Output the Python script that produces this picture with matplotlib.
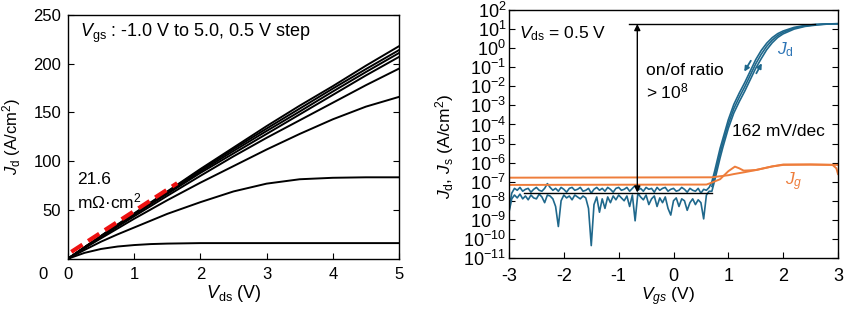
import numpy as np
import matplotlib
matplotlib.use("Agg")
import matplotlib.pyplot as plt

plt.rcParams['font.family'] = ['Liberation Sans', 'DejaVu Sans']
plt.rcParams['mathtext.fontset'] = 'custom'
plt.rcParams['mathtext.rm'] = 'Liberation Sans'
plt.rcParams['mathtext.it'] = 'Liberation Sans:italic'
plt.rcParams['font.size'] = 12

# ---- left panel: output curves Jd-Vds ----
vds = [0, 0.25, 0.5, 0.75, 1.0, 1.25, 1.5, 2.0, 2.5, 3.0, 3.5, 4.0, 4.5, 5.0]
jd_out = [
    [0, 11.8, 23.5, 35.2, 46.5, 57.8, 69.0, 92.0, 114.0, 136.0, 157.0, 177.0, 198.0, 218.0],
    [0, 11.7, 23.3, 34.8, 46.0, 57.3, 68.5, 91.0, 112.5, 133.5, 154.0, 174.5, 194.5, 214.0],
    [0, 11.6, 23.0, 34.4, 45.5, 56.5, 67.5, 89.5, 110.5, 131.0, 151.0, 171.5, 191.5, 211.0],
    [0, 11.5, 22.8, 34.0, 45.0, 56.0, 66.5, 88.0, 108.0, 128.0, 148.0, 168.0, 188.0, 207.0],
    [0, 11.2, 22.0, 33.0, 43.5, 54.0, 64.5, 85.0, 105.0, 124.0, 142.0, 160.0, 178.0, 195.0],
    [0, 10.8, 21.0, 31.0, 41.0, 50.5, 60.0, 78.0, 95.0, 112.0, 128.0, 143.0, 156.0, 166.0],
    [0, 9.0, 17.5, 25.0, 32.0, 39.0, 46.0, 58.0, 69.0, 77.0, 81.5, 83.0, 83.5, 83.5],
    [0, 6.0, 10.0, 12.5, 14.0, 15.0, 15.5, 16.0, 16.0, 16.0, 16.0, 16.0, 16.0, 16.0],
]
fit_v = [0.05, 1.65]
fit_j = [7.0, 77.5]

# ---- right panel: transfer curves (log10 of A/cm2) ----
vgs_off = np.round(np.arange(-3.0, 0.66, 0.05), 2)
jd_fwd_off = [-8.5, -7.6, -7.35, -7.45, -7.3, -7.5, -7.4, -7.35, -7.55, -7.4,
              -7.3, -7.45, -7.5, -7.35, -7.1, -7.3, -7.45, -7.35, -7.5, -7.3,
              -7.4, -7.55, -7.35, -7.3, -7.45, -7.4, -7.3, -7.5, -7.45, -7.35,
              -7.6, -7.4, -7.3, -7.45, -7.35, -7.5, -7.3, -7.4, -7.55, -7.35,
              -7.3, -7.45, -7.4, -7.3, -7.5, -7.35, -7.2, -7.45, -7.35, -7.5,
              -7.3, -7.4, -7.35, -7.55, -7.3, -7.45, -7.35, -7.3, -7.5, -7.4,
              -7.35, -7.5, -7.45, -7.3, -7.4, -7.55, -7.35, -7.45, -7.5, -7.35,
              -7.6, -7.4, -7.45, -7.3]
jd_rev_off = [-8.6, -7.9, -7.7, -7.85, -7.65, -7.9, -7.75, -7.95, -7.7, -7.85,
              -7.9, -7.65, -7.8, -8.1, -7.7, -7.75, -7.9, -8.3, -9.35, -8.0,
              -7.7, -7.85, -7.75, -7.95, -7.7, -7.8, -7.9, -7.75, -7.85, -8.4,
              -10.35, -8.2, -7.8, -8.6, -7.9, -8.4, -7.8, -8.1, -7.75, -7.95,
              -7.7, -7.85, -8.0, -7.75, -8.3, -7.7, -9.05, -7.6, -7.8, -7.95,
              -7.7, -8.2, -7.9, -7.75, -8.3, -7.85, -8.1, -7.8, -8.4, -8.75,
              -8.0, -7.85, -8.3, -7.9, -8.0, -8.5, -8.1, -7.9, -8.2, -7.95,
              -8.1, -8.95, -7.7, -7.5]
vgs_on = [0.70, 0.75, 0.80, 0.85, 0.90, 0.95, 1.00, 1.10, 1.20, 1.30, 1.40,
          1.50, 1.60, 1.70, 1.80, 1.90, 2.00, 2.20, 2.40, 2.60, 2.80, 3.00]
jd_fwd_on = [-7.0, -6.45, -5.85, -5.25, -4.75, -4.25, -3.75, -2.95, -2.35, -1.8, -1.2,
             -0.6, -0.12, 0.26, 0.55, 0.76, 0.9, 1.09, 1.19, 1.25, 1.27, 1.28]
js_on = [-7.25, -6.7, -6.1, -5.5, -4.97, -4.47, -3.97, -3.17, -2.57, -2.02, -1.42,
         -0.82, -0.32, 0.1, 0.42, 0.66, 0.83, 1.05, 1.17, 1.23, 1.27, 1.28]
jd_rev_on = [-7.5, -6.95, -6.35, -5.75, -5.2, -4.7, -4.2, -3.4, -2.8, -2.25, -1.65,
             -1.05, -0.55, -0.08, 0.28, 0.56, 0.75, 1.0, 1.14, 1.21, 1.26, 1.28]

vgs_g1 = [-3.0, 0.7, 1.0, 1.1, 1.3, 1.5, 1.8, 2.0, 2.5, 2.9, 2.97, 3.0]
jg_1 = [-6.79, -6.77, -6.66, -6.6, -6.5, -6.39, -6.2, -6.12, -6.1, -6.12, -6.3, -6.6]
vgs_g2 = [-3.0, 0.6, 0.67, 0.85, 1.0, 1.12, 1.2, 1.28, 1.5, 1.8, 2.0, 2.5, 3.0]
jg_2 = [-7.17, -7.15, -7.08, -6.87, -6.45, -6.21, -6.3, -6.42, -6.39, -6.2, -6.1, -6.1, -6.12]

on_line_v = [-0.81, 2.58]
on_level = 18.4
off_line_v = [-2.72, 0.70]
off_level = 2.7e-8
ratio_v = -0.66

BLUE = '#1f688c'
BLUE_TXT = '#2e75b6'
ORANGE = '#ee7d3b'

fig = plt.figure(figsize=(8.5, 3.11), dpi=100)
ax1 = fig.add_axes([68 / 850, 1 - 258.7 / 311, 331 / 850, 243.7 / 311])
ax2 = fig.add_axes([509 / 850, 1 - 258 / 311, 329 / 850, 248 / 311])

# left
for j in jd_out:
    ax1.plot(vds, j, color='black', lw=1.4)
ax1.plot(fit_v, fit_j, color='#ee1111', lw=3, ls=(0, (3.2, 1.6)))
ax1.set_xlim(0, 5)
ax1.set_ylim(0, 250)
ax1.set_xticks([0, 1, 2, 3, 4, 5])
ax1.set_yticks([50, 100, 150, 200, 250])
ax1.tick_params(direction='in', right=True, length=4, labelsize=12)
ax1.tick_params(axis='x', pad=6)
ax1.tick_params(axis='y', pad=5)
ax1.text(-0.075, -0.063, '0', transform=ax1.transAxes, ha='center', va='center', fontsize=12)
ax1.set_xlabel(r'$V_\mathrm{ds}$ (V)', fontsize=13)
ax1.set_ylabel(r'$J_\mathrm{d}$ (A/cm$^2$)', fontsize=12)
ax1.xaxis.set_label_coords(0.5, -0.10)
ax1.yaxis.set_label_coords(-0.135, 0.5)
ax1.text(12 / 331, (258.7 - 33.3) / 243.7, r'$V_\mathrm{gs}$ : -1.0 V to 5.0, 0.5 V step',
         transform=ax1.transAxes, ha='left', va='center', fontsize=13)
ax1.text(9.3 / 331, (258.7 - 180) / 243.7, '21.6', transform=ax1.transAxes,
         ha='left', va='center', fontsize=12.5)
ax1.text(9.3 / 331, (258.7 - 201.7) / 243.7, 'm\u03a9\u00b7cm$^2$', transform=ax1.transAxes,
         ha='left', va='center', fontsize=12.5)

# right
ax2.set_yscale('log')
ax2.plot(np.concatenate([vgs_off, vgs_on]), 10 ** np.array(jd_fwd_off + jd_fwd_on),
         color=BLUE, lw=1.2)
ax2.plot(np.concatenate([vgs_off, vgs_on]), 10 ** np.array(jd_rev_off + jd_rev_on),
         color=BLUE, lw=1.2)
ax2.plot(vgs_on, 10 ** np.array(js_on), color=BLUE, lw=1.2)
ax2.plot(vgs_g1, 10 ** np.array(jg_1), color=ORANGE, lw=1.4)
ax2.plot(vgs_g2, 10 ** np.array(jg_2), color=ORANGE, lw=1.4)

ax2.plot(on_line_v, [on_level, on_level], color='black', lw=1)
ax2.plot(off_line_v, [off_level, off_level], color='black', lw=1)
ax2.annotate('', xy=(ratio_v, on_level), xytext=(ratio_v, off_level),
             arrowprops=dict(arrowstyle='<|-|>', color='black', lw=1,
                             mutation_scale=9, shrinkA=0, shrinkB=0))
ax2.annotate('', xy=(1.29, 10 ** -1.23), xytext=(1.41, 10 ** -0.66),
             arrowprops=dict(arrowstyle='-|>', color=BLUE, lw=1.3,
                             mutation_scale=7, shrinkA=0, shrinkB=0))
ax2.annotate('', xy=(1.61, 10 ** -0.79), xytext=(1.51, 10 ** -1.32),
             arrowprops=dict(arrowstyle='-|>', color=BLUE, lw=1.3,
                             mutation_scale=7, shrinkA=0, shrinkB=0))

ax2.set_xlim(-3, 3)
ax2.set_ylim(1e-11, 1e2)
ax2.set_xticks([-3, -2, -1, 0, 1, 2, 3])
ax2.set_xticklabels(['-3', '-2', '-1', '0', '1', '2', '3'])
dec = list(range(-11, 3))
ax2.set_yticks([10.0 ** e for e in dec])
ax2.set_yticklabels([r'10$^{\mathrm{%s}}$' % (('-' + str(-e)) if e < 0 else str(e)) for e in dec])
ax2.yaxis.set_minor_locator(matplotlib.ticker.NullLocator())
ax2.tick_params(direction='in', right=True, length=4, labelsize=13)
ax2.tick_params(axis='x', pad=7)
ax2.tick_params(axis='y', pad=2)
ax2.set_xlabel(r'$V_{gs}$ (V)', fontsize=12.5)
ax2.set_ylabel(r'$J_\mathrm{d}$, $J_\mathrm{s}$ (A/cm$^2$)', fontsize=12.5)
ax2.xaxis.set_label_coords(0.483, -0.112)
ax2.yaxis.set_label_coords(-0.16, 0.449)

ax2.text(10.3 / 329, (258 - 33.3) / 248, r'$V_\mathrm{ds}$ = 0.5 V', transform=ax2.transAxes,
         ha='left', va='center', fontsize=12.5)
ax2.text(137 / 329, (258 - 70.7) / 248, 'on/of ratio', transform=ax2.transAxes,
         ha='left', va='center', fontsize=12.5)
ax2.text(137 / 329, (258 - 91) / 248, r'> 10$^8$', transform=ax2.transAxes,
         ha='left', va='center', fontsize=12.5)
ax2.text(222.7 / 329, (258 - 131.7) / 248, '162 mV/dec', transform=ax2.transAxes,
         ha='left', va='center', fontsize=12.5)
ax2.text(268 / 329, (258 - 50) / 248, r'$J_\mathrm{d}$', transform=ax2.transAxes,
         ha='left', va='center', fontsize=12.5, color=BLUE_TXT)
ax2.text(276 / 329, (258 - 181.7) / 248, r'$J_g$', transform=ax2.transAxes,
         ha='left', va='center', fontsize=12.5, color=ORANGE)

for ax in (ax1, ax2):
    for s in ax.spines.values():
        s.set_linewidth(1.0)

fig.savefig('out.png', dpi=100)
